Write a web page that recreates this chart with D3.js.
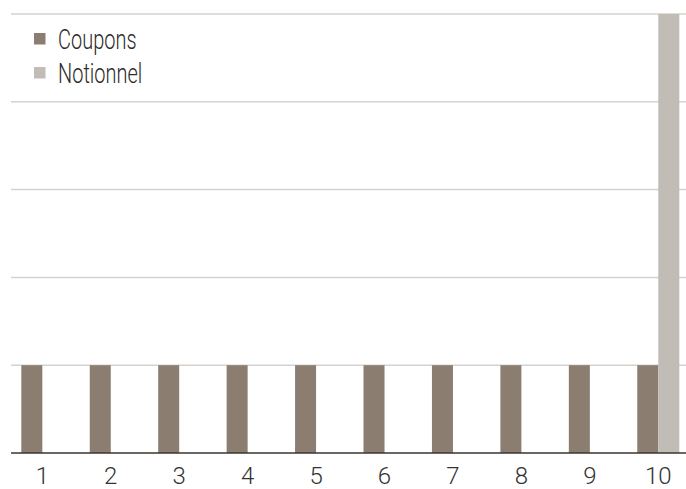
<!DOCTYPE html>
<html>

<head>
  <meta charset="utf-8">
  <style type="text/css">
    body {
      margin: 0;
      background: #fff;
    }
    svg {
      display: block;
    }
  </style>
  <title>Coupons et notionnel</title>
</head>

<body>
  <script src="https://cdn.jsdelivr.net/npm/d3@7"></script>
  <script>
    var years = ["1", "2", "3", "4", "5", "6", "7", "8", "9", "10"];
    var seriesNames = ["Coupons", "Notionnel"];
    var coupons = [20, 20, 20, 20, 20, 20, 20, 20, 20, 20];
    var notionnel = [0, 0, 0, 0, 0, 0, 0, 0, 0, 100];
    var gridTicks = [20, 40, 60, 80, 100];

    var colors = {
      "Coupons": "#8b7d6f",
      "Notionnel": "#c1bcb5"
    };

    var width = 686,
      height = 489;

    var svg = d3.select("body").append("svg")
      .attr("width", width)
      .attr("height", height);

    var x = d3.scaleBand()
      .domain(years)
      .range([8.1, 692.5])
      .paddingInner(0.386)
      .paddingOuter(0.193);

    var xSub = d3.scaleBand()
      .domain(seriesNames)
      .range([0, x.bandwidth()]);

    var y = d3.scaleLinear()
      .domain([0, 100])
      .range([453, 14]);

    // gridlines
    svg.append("g")
      .selectAll("line")
      .data(gridTicks)
      .enter().append("line")
      .attr("x1", 11)
      .attr("x2", width)
      .attr("y1", d => y(d))
      .attr("y2", d => y(d))
      .attr("stroke", "#d6d2cd")
      .attr("stroke-width", 1.5);

    var rows = years.map((yr, i) => ({
      year: yr,
      values: [
        { key: "Coupons", value: coupons[i] },
        { key: "Notionnel", value: notionnel[i] }
      ]
    }));

    var groups = svg.append("g")
      .selectAll("g")
      .data(rows)
      .enter().append("g")
      .attr("transform", d => "translate(" + x(d.year) + ",0)");

    groups.selectAll("rect")
      .data(d => d.values)
      .enter().append("rect")
      .attr("x", d => xSub(d.key))
      .attr("width", xSub.bandwidth())
      .attr("y", d => y(d.value))
      .attr("height", d => y(0) - y(d.value))
      .attr("fill", d => colors[d.key]);

    // baseline
    svg.append("line")
      .attr("x1", 11)
      .attr("x2", width)
      .attr("y1", y(0))
      .attr("y2", y(0))
      .attr("stroke", "#3a3430")
      .attr("stroke-width", 1.5);

    var xAxis = d3.axisBottom(x)
      .tickSize(0)
      .tickPadding(14);

    var ax = svg.append("g")
      .attr("transform", "translate(0," + y(0) + ")")
      .call(xAxis);

    ax.select(".domain").remove();
    ax.selectAll("text")
      .attr("font-family", "Roboto, 'Liberation Sans', sans-serif")
      .attr("font-weight", 300)
      .attr("font-size", 24)
      .attr("fill", "#333");

    // legend
    var legend = svg.append("g")
      .selectAll("g")
      .data(seriesNames)
      .enter().append("g")
      .attr("transform", (d, i) => "translate(34," + (33 + i * 34) + ")");

    legend.append("rect")
      .attr("width", 11.5)
      .attr("height", 11.5)
      .attr("fill", d => colors[d]);

    // condensed look: squeeze the text horizontally
    legend.append("text")
      .attr("transform", "translate(24,16) scale(0.74,1)")
      .attr("font-family", "Roboto, 'Liberation Sans', sans-serif")
      .attr("font-weight", 300)
      .attr("font-size", 27)
      .attr("fill", "#2e2a28")
      .text(d => d);
  </script>
</body>

</html>
